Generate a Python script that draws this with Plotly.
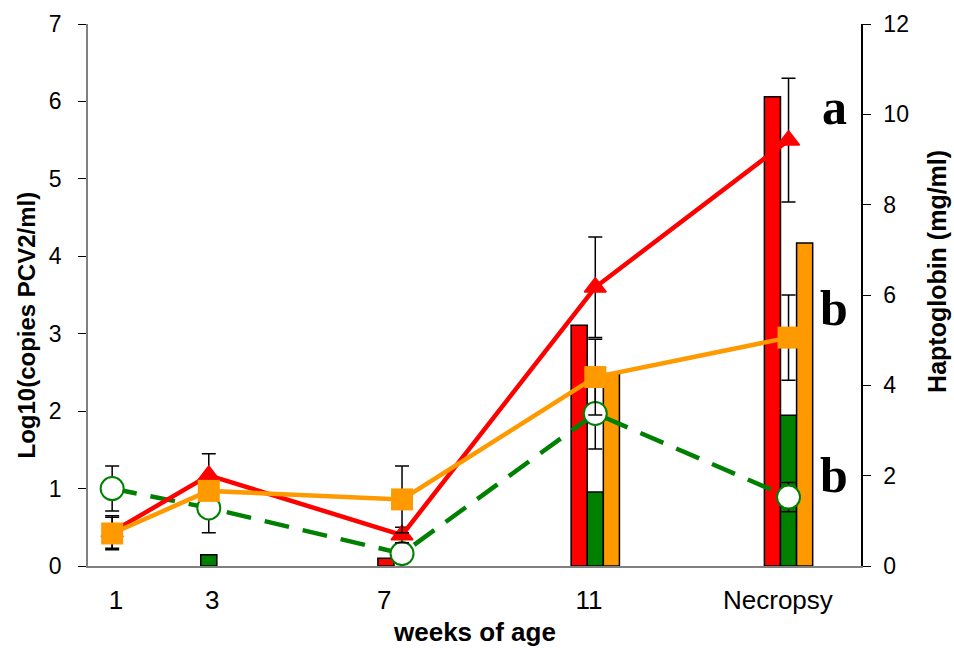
import plotly.graph_objects as go

# ---------------- data ----------------
categories = ["1", "3", "7", "11", "Necropsy"]
week_pos = [1, 3, 7, 11, 15]            # position of each sampling point on the week scale
label_pos = [1.08, 3.07, 6.63, 10.87, 14.78]  # where the category labels sit

# Haptoglobin (mg/ml) - bars, right axis
hp_red = [None, None, 0.17, 5.33, 10.39]
hp_green = [None, 0.25, None, 1.64, 3.34]
hp_orange = [None, None, None, 4.26, 7.15]

# Log10 copies PCV2/ml - lines, left axis
pcv_red = [0.44, 1.17, 0.40, 3.60, 5.50]
pcv_red_err = [0.21, 0.28, 0.10, 0.65, 0.80]
pcv_orange = [0.42, 0.97, 0.86, 2.44, 2.95]
pcv_orange_err = [0.21, 0.10, 0.43, 0.49, 0.55]
pcv_green = [1.00, 0.75, 0.16, 1.97, 0.89]
pcv_green_err = [0.29, 0.32, 0.08, 0.46, 0.19]

sig_letters = ["a", "b", "b"]
sig_y = [5.93, 3.33, 1.17]

# ---------------- styles ----------------
RED = "#FF0000"
GREEN = "#008000"
ORANGE = "#FF9900"
SANS = "Liberation Sans, Arial, sans-serif"
SERIF = "Liberation Serif, Times New Roman, serif"

fig = go.Figure()

for vals, col in [(hp_red, RED), (hp_green, GREEN), (hp_orange, ORANGE)]:
    fig.add_trace(go.Bar(
        x=week_pos, y=vals, yaxis="y",
        marker=dict(color=col, line=dict(color="black", width=1.5)),
        showlegend=False, hoverinfo="skip",
    ))

def err(arr):
    return dict(type="data", array=arr, visible=True, color="black",
                thickness=1.5, width=7)

fig.add_trace(go.Scatter(
    x=week_pos, y=pcv_green, yaxis="y2", mode="lines+markers",
    line=dict(color=GREEN, width=4.5, dash="25px,14px"),
    marker=dict(symbol="circle", size=23, color="white",
                line=dict(color=GREEN, width=2)),
    error_y=err(pcv_green_err), showlegend=False,
))
fig.add_trace(go.Scatter(
    x=week_pos, y=pcv_red, yaxis="y2", mode="lines+markers",
    line=dict(color=RED, width=4.5),
    marker=dict(symbol="triangle-up", size=19, color=RED,
                line=dict(color=RED, width=1.5)),
    error_y=err(pcv_red_err), showlegend=False,
))
fig.add_trace(go.Scatter(
    x=week_pos, y=pcv_orange, yaxis="y2", mode="lines+markers",
    line=dict(color=ORANGE, width=4.5),
    marker=dict(symbol="square", size=22, color=ORANGE),
    error_y=err(pcv_orange_err), showlegend=False,
))

annotations = []
for letter, yv in zip(sig_letters, sig_y):
    annotations.append(dict(
        x=15.95, y=yv, xref="x", yref="y2", text=letter, showarrow=False,
        xanchor="center", yanchor="middle",
        font=dict(family=SERIF, size=50, color="black", weight="bold"),
    ))

annotations += [
    dict(x=-0.080, y=0.444, xref="paper", yref="paper",
         text="Log10(copies PCV2/ml)", textangle=-90, showarrow=False,
         xanchor="center", yanchor="middle",
         font=dict(family=SANS, size=24, color="black", weight="bold")),
    dict(x=1.098, y=0.544, xref="paper", yref="paper",
         text="Haptoglobin (mg/ml)", textangle=-90, showarrow=False,
         xanchor="center", yanchor="middle",
         font=dict(family=SANS, size=25, color="black", weight="bold")),
    dict(x=0.5, y=-0.122, xref="paper", yref="paper",
         text="weeks of age", showarrow=False,
         xanchor="center", yanchor="middle",
         font=dict(family=SANS, size=26, color="black", weight="bold")),
]

fig.update_layout(
    width=954, height=648,
    margin=dict(l=88, r=93, t=24, b=82, autoexpand=False),
    paper_bgcolor="white", plot_bgcolor="white",
    barmode="group", bargap=0.5, bargroupgap=0,
    font=dict(family=SANS, color="black"),
    showlegend=False,
    annotations=annotations,
    xaxis=dict(
        range=[0.5, 16.5], showgrid=False, zeroline=False,
        showline=True, linecolor="#808080", linewidth=1.5,
        ticks="", tickvals=label_pos, ticktext=categories,
        tickfont=dict(family=SANS, size=26, color="black"),
        ticklabelstandoff=10, automargin=False,
    ),
    yaxis=dict(
        range=[0, 12], dtick=2, side="right", anchor="x",
        showgrid=False, zeroline=False,
        showline=True, linecolor="black", linewidth=1.5,
        ticks="outside", ticklen=8, tickcolor="black", tickwidth=1,
        tickfont=dict(family=SANS, size=23, color="black"),
        ticklabelstandoff=8, automargin=False,
    ),
    yaxis2=dict(
        range=[0, 7], dtick=1, side="left", overlaying="y", anchor="x",
        showgrid=False, zeroline=False,
        showline=True, linecolor="#808080", linewidth=1.5,
        ticks="outside", ticklen=8, tickcolor="black", tickwidth=1,
        tickfont=dict(family=SANS, size=23, color="black"),
        ticklabelstandoff=12, automargin=False,
    ),
    yaxis3=dict(
        range=[0, 7], dtick=1, side="left", overlaying="y", anchor="x",
        showgrid=False, zeroline=False, showline=False,
        ticks="inside", ticklen=8, tickcolor="black", tickwidth=1,
        showticklabels=False, automargin=False,
    ),
    yaxis4=dict(
        range=[0, 12], dtick=2, side="right", overlaying="y", anchor="x",
        showgrid=False, zeroline=False, showline=False,
        ticks="inside", ticklen=8, tickcolor="black", tickwidth=1,
        showticklabels=False, automargin=False,
    ),
)

fig.write_html(
    "out.html",
    config={"displayModeBar": False},
    post_script="document.body.style.margin='0';document.body.style.padding='0';",
)
